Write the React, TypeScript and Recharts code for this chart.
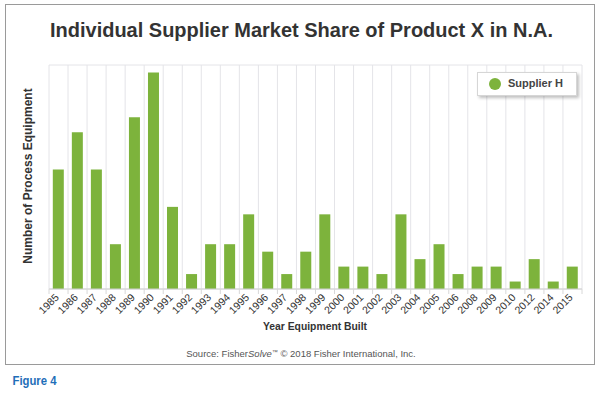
import React from "react";
import { BarChart, Bar, XAxis, YAxis, CartesianGrid, Legend } from "recharts";

const years = [
  "1985", "1986", "1987", "1988", "1989", "1990", "1991", "1992", "1993", "1994",
  "1995", "1996", "1997", "1998", "1999", "2000", "2001", "2002", "2003", "2004",
  "2005", "2006", "2008", "2009", "2010", "2012", "2014", "2015",
];
const supplierH = [
  16, 21, 16, 6, 23, 29, 11, 2, 6, 6,
  10, 5, 2, 5, 10, 3, 3, 2, 10, 4,
  6, 2, 3, 3, 1, 4, 1, 3,
];
const yTicks = [0, 5, 10, 15, 20, 25, 30];

const seriesName = "Supplier H";
const barColor = "#7db33c";
const font = "'Liberation Sans', Arial, Helvetica, sans-serif";

const data = years.map((year, i) => ({ year, value: supplierH[i] }));

const W = 600;
const H = 395;
const margin = { top: 65, right: 18, left: 49, bottom: 66 };
const band = (W - margin.left - margin.right) / years.length;

const YearTick = (props: any) => {
  const { x, y, payload, index } = props;
  const last = index === years.length - 1;
  return (
    <g>
      <line x1={x - band / 2} x2={x - band / 2} y1={y} y2={y + 5} stroke="#d8d8d8" />
      {last && <line x1={x + band / 2} x2={x + band / 2} y1={y} y2={y + 5} stroke="#d8d8d8" />}
      <text
        x={x + 1}
        y={y + 9}
        textAnchor="end"
        transform={`rotate(-45, ${x + 1}, ${y + 9})`}
        fontSize={10.5}
        fontFamily={font}
        fill="#333"
      >
        {payload.value}
      </text>
    </g>
  );
};

const LegendBox = () => (
  <div
    style={{
      width: 98,
      height: 22,
      background: "#fff",
      border: "1px solid #d6d6d6",
      boxShadow: "2px 2px 3px rgba(0,0,0,0.25)",
      position: "relative",
      fontFamily: font,
    }}
  >
    <span
      style={{
        position: "absolute",
        left: 11,
        top: 5,
        width: 12,
        height: 12,
        borderRadius: "50%",
        background: barColor,
      }}
    />
    <span
      style={{
        position: "absolute",
        left: 30,
        top: 4,
        fontSize: 11,
        fontWeight: "bold",
        color: "#444",
        whiteSpace: "nowrap",
      }}
    >
      {seriesName}
    </span>
  </div>
);

export default function App() {
  return (
    <div style={{ position: "absolute", left: 0, top: 0, width: W, height: H, background: "#fff" }}>
      <div
        style={{
          position: "absolute",
          left: 5,
          top: 4,
          width: 588,
          height: 359,
          border: "1px solid #9a9a9a",
        }}
      />
      <div style={{ position: "absolute", left: 0, top: 0 }}>
        <BarChart width={W} height={H} data={data} margin={margin} barCategoryGap="20%">
          <CartesianGrid
            stroke="#e4e4e8"
            verticalCoordinatesGenerator={({ offset }: any) =>
              Array.from({ length: years.length + 1 }, (_, i) => offset.left + (i * offset.width) / years.length)
            }
          />
          <XAxis
            dataKey="year"
            interval={0}
            height={40}
            tickLine={false}
            tickSize={0}
            tickMargin={0}
            axisLine={{ stroke: "#d0d0d0" }}
            tick={<YearTick />}
          />
          <YAxis
            width={0}
            domain={[0, 30]}
            ticks={yTicks}
            tick={false}
            axisLine={false}
            tickLine={false}
          />
          <Legend
            layout="horizontal"
            align="center"
            verticalAlign="middle"
            wrapperStyle={{ top: 72, left: 477, width: 100, height: 24 }}
            content={() => <LegendBox />}
          />
          <Bar dataKey="value" name={seriesName} fill={barColor} isAnimationActive={false} />
        </BarChart>
      </div>
      <svg
        width={W}
        height={H}
        style={{ position: "absolute", left: 0, top: 0, pointerEvents: "none" }}
        fontFamily={font}
      >
        <text
          x={50}
          y={36.7}
          fontSize={20}
          fontWeight="bold"
          fill="#333"
          textLength={503}
          lengthAdjust="spacingAndGlyphs"
        >
          Individual Supplier Market Share of Product X in N.A.
        </text>
        <text
          x={32}
          y={176}
          fontSize={12}
          fontWeight="bold"
          fill="#333"
          textAnchor="middle"
          transform="rotate(-90, 32, 176)"
        >
          Number of Process Equipment
        </text>
        <text
          x={263}
          y={330}
          fontSize={11.5}
          fontWeight="bold"
          fill="#333"
          textLength={104}
          lengthAdjust="spacingAndGlyphs"
        >
          Year Equipment Built
        </text>
        <text x={301} y={357} fontSize={9.5} fill="#555" textAnchor="middle">
          Source: Fisher<tspan fontStyle="italic">Solve</tspan>
          <tspan fontSize={6} baselineShift="super">™</tspan> © 2018 Fisher International, Inc.
        </text>
        <text
          x={12.5}
          y={385}
          fontSize={12.5}
          fontWeight="bold"
          fill="#1f6eb8"
          textLength={44}
          lengthAdjust="spacingAndGlyphs"
        >
          Figure 4
        </text>
      </svg>
    </div>
  );
}
